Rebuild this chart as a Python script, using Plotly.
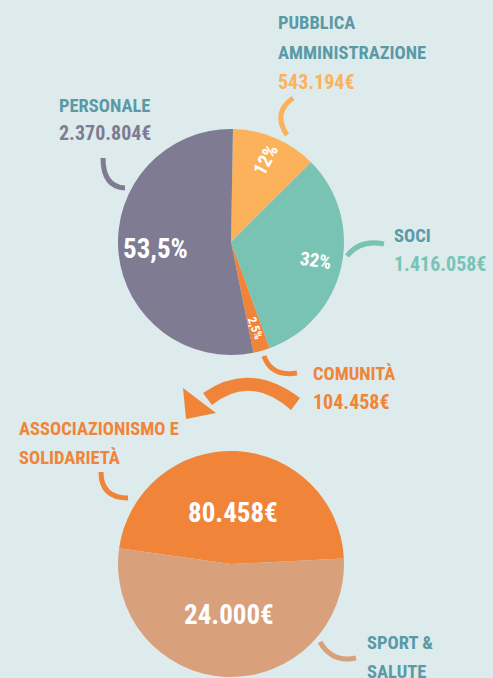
import numpy as np
import plotly.graph_objects as go

# ---------------- data ----------------
top_categories = ["Pubblica Amministrazione", "Soci", "Comunità", "Personale"]
top_values = [543194, 1416058, 104458, 2370804]
top_pct_labels = ["12%", "32%", "2,5%", "53,5%"]
top_value_labels = ["543.194€", "1.416.058€", "104.458€", "2.370.804€"]

bottom_categories = ["Associazionismo e Solidarietà", "Sport & Salute"]
bottom_amount_labels = ["80.458€", "24.000€"]
bottom_drawn_share = [47, 53]  # slice sizes as drawn in the picture

# ---------------- style ----------------
W, H = 493, 678
BG = "#deebec"
HEAD = "#5a9aa7"
C_PA = "#fbb25a"
C_SOCI = "#79c3b5"
C_COM = "#f08439"
C_PERS = "#7e7b93"
C_SPORT = "#d8a07b"
FONT = ("Noto Sans ExtraCondensed, Roboto Condensed, Noto Sans Condensed, "
        "Liberation Sans Narrow, Liberation Sans, sans-serif")

top_colors = [C_PA, C_SOCI, C_COM, C_PERS]
bottom_colors = [C_COM, C_SPORT]

# pie geometry (pixels)
TOP_C, TOP_R = (231, 242), 113
BOT_C, BOT_R = (231, 564), 113
TOP_ROT, BOT_ROT = 1, -82


def dom(c, r):
    return dict(x=[(c[0] - r) / W, (c[0] + r) / W],
                y=[1 - (c[1] + r) / H, 1 - (c[1] - r) / H])


fig = go.Figure()
fig.add_trace(go.Scatter(x=[], y=[], showlegend=False, hoverinfo="skip"))
fig.add_trace(go.Pie(labels=top_categories, values=top_values, sort=False,
                     direction="clockwise", rotation=TOP_ROT,
                     marker=dict(colors=top_colors, line=dict(width=0)),
                     textinfo="none", domain=dom(TOP_C, TOP_R), showlegend=False))
fig.add_trace(go.Pie(labels=bottom_categories, values=bottom_drawn_share, sort=False,
                     direction="clockwise", rotation=BOT_ROT,
                     marker=dict(colors=bottom_colors, line=dict(width=0)),
                     textinfo="none", domain=dom(BOT_C, BOT_R), showlegend=False))

ann = []


def txt(x, y, s, size, color, xanchor="left", angle=0):
    ann.append(dict(x=x, y=y, xref="x", yref="y", text="<b>" + s + "</b>",
                    showarrow=False, xanchor=xanchor, yanchor="middle",
                    textangle=angle,
                    font=dict(family=FONT, size=size, color=color)))


# slice labels placed at the slice mid-angles
def mid_angles(vals, rot):
    v = np.array(vals, float)
    frac = v / v.sum()
    start = np.concatenate([[0], np.cumsum(frac)[:-1]])
    compass = rot + 360 * (start + frac / 2)
    return np.deg2rad(90 - compass)


top_mid = mid_angles(top_values, TOP_ROT)
top_rfrac = [0.79, 0.77, 0.79, 0.67]
top_sizes = [19, 19, 12, 27]
top_angles = [-62, 8, 70, 0]
for a, rf, s, sz, ang in zip(top_mid, top_rfrac, top_pct_labels, top_sizes, top_angles):
    txt(TOP_C[0] + rf * TOP_R * np.cos(a), TOP_C[1] - rf * TOP_R * np.sin(a),
        s, sz, "white", xanchor="center", angle=ang)

bot_mid = mid_angles(bottom_drawn_share, BOT_ROT)
for a, s in zip(bot_mid, bottom_amount_labels):
    txt(BOT_C[0] + 0.45 * BOT_R * np.cos(a), BOT_C[1] - 0.45 * BOT_R * np.sin(a),
        s, 27, "white", xanchor="center")

# outer labels
HS, VS = 18.5, 20
txt(276, 23, "PUBBLICA", HS, HEAD)
txt(276, 53, "AMMINISTRAZIONE", HS, HEAD)
txt(276, 82, top_value_labels[0], VS, C_PA)
txt(57, 106, "PERSONALE", HS, HEAD)
txt(57, 133, top_value_labels[3], VS, C_PERS)
txt(392, 236, "SOCI", HS, HEAD)
txt(392, 264, top_value_labels[1], VS, C_SOCI)
txt(311, 374, "COMUNITÀ", HS, C_COM)
txt(311, 402, top_value_labels[2], VS, C_COM)
txt(17, 429, "ASSOCIAZIONISMO E", HS, C_COM)
txt(17, 458, "SOLIDARIETÀ", HS, C_COM)
txt(365, 643, "SPORT &", HS, HEAD)
txt(365, 672, "SALUTE", HS, HEAD)

# connectors
shapes = []


def arc(p0, c, p2, color):
    shapes.append(dict(type="path", xref="x", yref="y",
                       path=f"M {p0[0]} {p0[1]} Q {c[0]} {c[1]} {p2[0]} {p2[1]}",
                       line=dict(color=color, width=5)))


arc((293, 98), (272, 113), (287, 135), C_PA)
arc((103, 158), (103, 187), (125, 188), C_PERS)
arc((347, 256), (360, 239), (384, 244), C_SOCI)
arc((264, 356), (271, 377), (297, 373), C_COM)
arc((101, 472), (101, 498), (128, 498), C_COM)
arc((320, 642), (332, 663), (356, 658), C_SPORT)

# curved arrow
shapes.append(dict(type="path", xref="x", yref="y",
                   path="M 300 398 Q 250 360 203 393 L 212 405 Q 250 374 291 410 Z",
                   fillcolor=C_COM, line=dict(width=0)))
shapes.append(dict(type="path", xref="x", yref="y",
                   path="M 183 388 L 186 419 L 216 413 Z",
                   fillcolor=C_COM, line=dict(width=0)))

fig.update_layout(
    width=W, height=H, margin=dict(l=0, r=0, t=0, b=0),
    paper_bgcolor=BG, plot_bgcolor=BG,
    xaxis=dict(range=[0, W], visible=False, domain=[0, 1], fixedrange=True),
    yaxis=dict(range=[H, 0], visible=False, domain=[0, 1], fixedrange=True),
    annotations=ann, shapes=shapes, showlegend=False,
)

fig.write_html(
    "out.html",
    config={"displayModeBar": False},
    post_script=("document.body.style.margin='0';"
                 "document.body.style.background='" + BG + "';"
                 "document.documentElement.style.overflow='hidden';"),
)
